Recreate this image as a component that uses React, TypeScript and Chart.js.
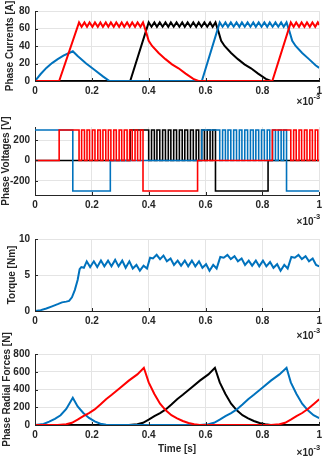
import React, { useEffect, useRef } from "react";
import { Chart, registerables } from "chart.js";

Chart.register(...registerables);

// ---------------- data (time in units of 1e-3 s) ----------------
const xTicks = [0, 0.2, 0.4, 0.6, 0.8, 1];
const xTickLabels = ["0", "0.2", "0.4", "0.6", "0.8", "1"];
const currentTicks = [0, 20, 40, 60, 80];
const voltageTicks = [-200, 0, 200];
const torqueTicks = [0, 5, 10];
const forceTicks = [0, 200, 400, 600, 800];

// Phase currents [A]
const curRedT = [0, 0.085, 0.155, 0.164, 0.174, 0.183, 0.192, 0.202, 0.211, 0.221, 0.23, 0.239, 0.249, 0.258, 0.267, 0.277, 0.286, 0.296, 0.305, 0.314, 0.324, 0.333, 0.342, 0.352, 0.361, 0.371, 0.38, 0.39, 0.4, 0.412, 0.435, 0.459, 0.482, 0.505, 0.53, 0.557, 0.575, 0.835, 0.9, 0.91, 0.919, 0.929, 0.938, 0.948, 0.957, 0.967, 0.976, 0.986, 0.995, 1.0];
const curRedA = [0, 0, 67, 62, 67, 62, 67, 62, 67, 62, 67, 62, 67, 62, 67, 62, 67, 62, 67, 62, 67, 62, 67, 62, 67, 62, 67, 57, 46, 40, 32, 25, 19, 14.5, 8.5, 2.5, 0, 0, 67, 62, 67, 62, 67, 62, 67, 62, 67, 62, 67, 64];
const curBlackT = [0, 0.335, 0.4, 0.41, 0.42, 0.429, 0.439, 0.449, 0.459, 0.469, 0.478, 0.488, 0.498, 0.508, 0.518, 0.527, 0.537, 0.547, 0.557, 0.567, 0.576, 0.586, 0.596, 0.606, 0.616, 0.625, 0.635, 0.645, 0.655, 0.667, 0.69, 0.714, 0.737, 0.76, 0.785, 0.812, 0.83, 1.0];
const curBlackA = [0, 0, 67, 62, 67, 62, 67, 62, 67, 62, 67, 62, 67, 62, 67, 62, 67, 62, 67, 62, 67, 62, 67, 62, 67, 62, 67, 57, 46, 40, 32, 25, 19, 14.5, 8.5, 2.5, 0, 0];
const curBlueT = [0, 0.02, 0.04, 0.06, 0.08, 0.1, 0.12, 0.133, 0.15, 0.18, 0.21, 0.24, 0.262, 0.587, 0.65, 0.66, 0.67, 0.679, 0.689, 0.699, 0.709, 0.719, 0.728, 0.738, 0.748, 0.758, 0.768, 0.777, 0.787, 0.797, 0.807, 0.817, 0.826, 0.836, 0.846, 0.856, 0.866, 0.875, 0.885, 0.895, 0.905, 0.917, 0.94, 0.964, 0.987, 1.0];
const curBlueA = [0, 8, 15, 20.5, 25, 29, 32, 34, 28.5, 20, 12.5, 5, 0, 0, 67, 62, 67, 62, 67, 62, 67, 62, 67, 62, 67, 62, 67, 62, 67, 62, 67, 62, 67, 62, 67, 62, 67, 62, 67, 57, 46, 40, 32, 25, 18, 15];

// Phase voltages [V] (value holds until the next switching instant)
const volRedT = [0, 0.085, 0.155, 0.164, 0.174, 0.183, 0.192, 0.202, 0.211, 0.221, 0.23, 0.239, 0.249, 0.258, 0.267, 0.277, 0.286, 0.296, 0.305, 0.314, 0.324, 0.333, 0.342, 0.352, 0.361, 0.371, 0.38, 0.572, 0.835, 0.9, 0.91, 0.919, 0.929, 0.938, 0.948, 0.957, 0.967, 0.976, 0.986, 0.995, 1.0];
const volRedV = [0, 300, 0, 300, 0, 300, 0, 300, 0, 300, 0, 300, 0, 300, 0, 300, 0, 300, 0, 300, 0, 300, 0, 300, 0, 300, -300, 0, 300, 0, 300, 0, 300, 0, 300, 0, 300, 0, 300, 0, 0];
const volBlackT = [0, 0.335, 0.4, 0.41, 0.42, 0.429, 0.439, 0.449, 0.459, 0.469, 0.478, 0.488, 0.498, 0.508, 0.518, 0.527, 0.537, 0.547, 0.557, 0.567, 0.576, 0.586, 0.596, 0.606, 0.616, 0.625, 0.635, 0.82, 1.0];
const volBlackV = [0, 300, 0, 300, 0, 300, 0, 300, 0, 300, 0, 300, 0, 300, 0, 300, 0, 300, 0, 300, 0, 300, 0, 300, 0, 300, -300, 0, 0];
const volBlueT = [0, 0.133, 0.265, 0.587, 0.65, 0.66, 0.67, 0.679, 0.689, 0.699, 0.709, 0.719, 0.728, 0.738, 0.748, 0.758, 0.768, 0.777, 0.787, 0.797, 0.807, 0.817, 0.826, 0.836, 0.846, 0.856, 0.866, 0.875, 0.885, 1.0];
const volBlueV = [300, -300, 0, 300, 0, 300, 0, 300, 0, 300, 0, 300, 0, 300, 0, 300, 0, 300, 0, 300, 0, 300, 0, 300, 0, 300, 0, 300, -300, -300];

// Torque [Nm]
const torqueT = [0, 0.02, 0.04, 0.06, 0.08, 0.095, 0.11, 0.12, 0.13, 0.14, 0.15, 0.157, 0.163, 0.172, 0.182, 0.194, 0.207, 0.219, 0.232, 0.244, 0.257, 0.269, 0.282, 0.294, 0.307, 0.319, 0.332, 0.344, 0.357, 0.369, 0.382, 0.394, 0.405, 0.415, 0.428, 0.44, 0.452, 0.464, 0.477, 0.489, 0.502, 0.514, 0.527, 0.539, 0.552, 0.564, 0.577, 0.589, 0.602, 0.614, 0.627, 0.639, 0.652, 0.664, 0.677, 0.689, 0.702, 0.714, 0.727, 0.739, 0.752, 0.764, 0.777, 0.789, 0.802, 0.814, 0.827, 0.839, 0.852, 0.864, 0.877, 0.889, 0.902, 0.914, 0.927, 0.939, 0.952, 0.964, 0.977, 0.989, 1.0];
const torqueNm = [0, 0.12, 0.35, 0.65, 0.95, 1.2, 1.3, 1.4, 1.9, 2.9, 4.3, 5.8, 6.1, 6.0, 6.9, 6.1, 6.9, 6.1, 7.0, 6.2, 7.0, 6.2, 7.1, 6.2, 7.0, 6.0, 6.9, 5.9, 6.4, 5.6, 6.3, 5.9, 7.4, 7.3, 7.8, 7.2, 7.7, 6.9, 7.3, 6.4, 7.0, 6.3, 7.0, 6.2, 7.0, 6.2, 6.9, 6.0, 6.5, 5.6, 6.4, 5.9, 7.5, 7.4, 7.8, 7.2, 7.6, 6.9, 7.3, 6.4, 7.0, 6.3, 7.0, 6.2, 7.0, 6.2, 6.8, 6.0, 6.5, 5.6, 6.4, 5.9, 7.5, 7.4, 7.8, 7.2, 7.6, 6.9, 7.3, 6.4, 6.2];

// Phase radial forces [N]
const forceRedT = [0, 0.08, 0.11, 0.13, 0.15, 0.17, 0.19, 0.21, 0.23, 0.25, 0.27, 0.3, 0.33, 0.36, 0.383, 0.4, 0.42, 0.44, 0.46, 0.48, 0.5, 0.52, 0.54, 0.56, 0.58, 0.83, 0.86, 0.88, 0.9, 0.92, 0.94, 0.96, 0.98, 1.0];
const forceRedN = [0, 0, 8, 25, 60, 100, 135, 175, 230, 290, 340, 420, 500, 570, 645, 480, 350, 240, 165, 110, 75, 45, 22, 8, 0, 0, 8, 25, 60, 100, 135, 180, 235, 290];
const forceBlackT = [0, 0.33, 0.36, 0.38, 0.4, 0.42, 0.44, 0.46, 0.48, 0.5, 0.52, 0.55, 0.58, 0.61, 0.633, 0.65, 0.67, 0.69, 0.71, 0.73, 0.75, 0.77, 0.79, 0.81, 0.83, 1.0];
const forceBlackN = [0, 0, 8, 25, 60, 100, 135, 175, 230, 290, 340, 420, 500, 570, 645, 480, 350, 240, 165, 110, 75, 45, 22, 8, 0, 0];
const forceBlueT = [0, 0.03, 0.05, 0.07, 0.09, 0.11, 0.133, 0.15, 0.17, 0.19, 0.21, 0.23, 0.25, 0.27, 0.58, 0.61, 0.63, 0.65, 0.67, 0.69, 0.71, 0.73, 0.75, 0.77, 0.8, 0.83, 0.86, 0.885, 0.9, 0.92, 0.94, 0.96, 0.98, 1.0];
const forceBlueN = [0, 12, 38, 70, 110, 180, 308, 210, 135, 80, 40, 15, 3, 0, 0, 8, 25, 60, 100, 135, 175, 230, 290, 340, 420, 500, 570, 645, 480, 350, 240, 165, 110, 78];

// ---------------- styling ----------------
const W = 326;
const H = 467;
const FONT = '"Liberation Sans", Arial, Helvetica, sans-serif';
const TEXT = "#262626";
const GRID = "#e4e4e4";
const AXIS = "#262626";
const BLUE = "#0072BD";
const RED = "#FF0000";
const BLACK = "#000000";

const zip = (t: number[], v: number[]) => t.map((x, i) => ({ x, y: v[i] }));

const annotate = {
  id: "annotate",
  afterDraw(chart: any, _args: any, opts: any) {
    const { ctx, chartArea: a, scales } = chart;
    ctx.save();
    ctx.strokeStyle = AXIS;
    ctx.lineWidth = 1;
    ctx.beginPath();
    for (const t of scales.x.ticks) {
      const px = Math.round(scales.x.getPixelForValue(t.value)) + 0.5;
      ctx.moveTo(px, a.bottom);
      ctx.lineTo(px, a.bottom - 3);
    }
    for (const t of scales.y.ticks) {
      const py = Math.round(scales.y.getPixelForValue(t.value)) + 0.5;
      ctx.moveTo(a.left, py);
      ctx.lineTo(a.left + 3, py);
    }
    ctx.stroke();

    ctx.fillStyle = TEXT;
    ctx.save();
    ctx.font = `bold 10px ${FONT}`;
    ctx.translate(opts.yTitleX, (a.top + a.bottom) / 2);
    ctx.rotate(-Math.PI / 2);
    ctx.textAlign = "center";
    ctx.textBaseline = "middle";
    ctx.fillText(opts.yTitle, 0, 0);
    ctx.restore();

    ctx.textAlign = "right";
    ctx.textBaseline = "middle";
    ctx.font = `bold 7.5px ${FONT}`;
    const sup = "-3";
    const supW = ctx.measureText(sup).width;
    ctx.fillText(sup, a.right + 1, opts.expY - 5);
    ctx.font = `bold 10px ${FONT}`;
    ctx.fillText("\u00d710", a.right + 1 - supW, opts.expY);

    if (opts.xTitle) {
      ctx.textAlign = "center";
      ctx.font = `bold 10px ${FONT}`;
      ctx.fillText(opts.xTitle, (a.left + a.right) / 2, opts.xTitleY);
    }
    ctx.restore();
  },
};

type Panel = {
  top: number;
  bottom: number;
  yMin: number;
  yMax: number;
  yTicks: number[];
  yTitle: string;
  yTitleX: number;
  expY: number;
  xTitle?: string;
  xTitleY?: number;
  datasets: any[];
};

function line(label: string, t: number[], v: number[], color: string, width: number, stepped = false) {
  return {
    label,
    data: zip(t, v),
    borderColor: color,
    backgroundColor: color,
    borderWidth: width,
    pointRadius: 0,
    tension: 0,
    fill: false,
    stepped: stepped ? "before" : false,
  };
}

const panels: Panel[] = [
  {
    top: 11, bottom: 81, yMin: 0, yMax: 80, yTicks: currentTicks,
    yTitle: "Phase Currents [A]", yTitleX: 10, expY: 102,
    datasets: [
      line("Phase C", curRedT, curRedA, RED, 2),
      line("Phase A", curBlueT, curBlueA, BLUE, 2),
      line("Phase B", curBlackT, curBlackA, BLACK, 2),
    ],
  },
  {
    top: 127, bottom: 195, yMin: -340, yMax: 330, yTicks: voltageTicks,
    yTitle: "Phase Voltages [V]", yTitleX: 6, expY: 222,
    datasets: [
      line("Phase C", volRedT, volRedV, RED, 1.6, true),
      line("Phase A", volBlueT, volBlueV, BLUE, 1.6, true),
      line("Phase B", volBlackT, volBlackV, BLACK, 1.6, true),
    ],
  },
  {
    top: 239, bottom: 311, yMin: 0, yMax: 10, yTicks: torqueTicks,
    yTitle: "Torque [Nm]", yTitleX: 12, expY: 336,
    datasets: [line("Torque", torqueT, torqueNm, BLUE, 2)],
  },
  {
    top: 354, bottom: 425, yMin: 0, yMax: 800, yTicks: forceTicks,
    yTitle: "Phase Radial Forces [N]", yTitleX: 7, expY: 453, xTitle: "Time [s]", xTitleY: 449,
    datasets: [
      line("Phase C", forceRedT, forceRedN, RED, 2),
      line("Phase A", forceBlueT, forceBlueN, BLUE, 2),
      line("Phase B", forceBlackT, forceBlackN, BLACK, 2),
    ],
  },
];

function makeConfig(p: Panel): any {
  const tickFont = { family: FONT, size: 10, weight: "bold" as const };
  return {
    type: "line",
    data: { datasets: p.datasets },
    plugins: [annotate],
    options: {
      animation: false,
      responsive: false,
      devicePixelRatio: 1,
      events: [],
      layout: { padding: { left: 0, right: 4, top: p.top, bottom: 0 } },
      plugins: {
        legend: { display: false },
        tooltip: { enabled: false },
        title: { display: false },
        annotate: { yTitle: p.yTitle, yTitleX: p.yTitleX, expY: p.expY, xTitle: p.xTitle, xTitleY: p.xTitleY },
      },
      scales: {
        x: {
          type: "linear",
          min: 0,
          max: 1,
          afterBuildTicks: (s: any) => {
            s.ticks = xTicks.map((v) => ({ value: v }));
          },
          afterFit: (s: any) => {
            s.height = H - p.bottom;
          },
          ticks: {
            callback: (v: number) => xTickLabels[xTicks.indexOf(v)] ?? "",
            font: tickFont,
            color: TEXT,
            padding: 4,
            maxRotation: 0,
            autoSkip: false,
          },
          grid: { color: GRID, drawTicks: false, lineWidth: 1 },
          border: { display: true, color: AXIS, width: 1 },
        },
        y: {
          type: "linear",
          min: p.yMin,
          max: p.yMax,
          afterBuildTicks: (s: any) => {
            s.ticks = p.yTicks.map((v) => ({ value: v }));
          },
          afterFit: (s: any) => {
            s.width = 35;
          },
          ticks: {
            callback: (v: number) => String(v),
            font: tickFont,
            color: TEXT,
            padding: 5,
            autoSkip: false,
          },
          grid: { color: GRID, drawTicks: false, lineWidth: 1 },
          border: { display: true, color: AXIS, width: 1 },
        },
      },
    },
  };
}

export default function App() {
  const refs = useRef<(HTMLCanvasElement | null)[]>([]);

  useEffect(() => {
    const charts = panels.map((p, i) => {
      const c = refs.current[i] as HTMLCanvasElement;
      return new Chart(c, makeConfig(p));
    });
    return () => charts.forEach((ch) => ch.destroy());
  }, []);

  return (
    <div style={{ position: "fixed", left: 0, top: 0, width: W, height: H, background: "#fff", overflow: "hidden" }}>
      {panels.map((p, i) => (
        <canvas
          key={i}
          ref={(el) => {
            refs.current[i] = el;
          }}
          width={W}
          height={H}
          style={{ position: "absolute", left: 0, top: 0, width: W, height: H, display: "block" }}
        />
      ))}
    </div>
  );
}
